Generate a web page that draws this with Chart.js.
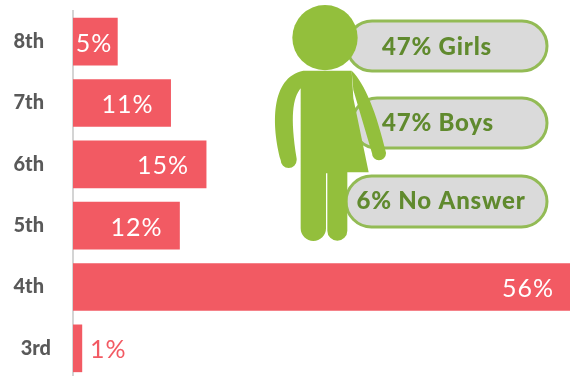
<!DOCTYPE html>
<html><head><meta charset="utf-8">
<style>html,body{margin:0;padding:0;background:#fff;overflow:hidden;width:570px;height:376px}canvas{display:block}</style>
<script src="https://cdn.jsdelivr.net/npm/chart.js@4"></script>
</head><body>
<canvas id="c" width="570" height="380"></canvas>
<script>
const grades = ['8th','7th','6th','5th','4th','3rd'];
const percents = [5,11,15,12,56,1];
const genderLabels = ['47% Girls','47% Boys','6% No Answer'];

const RED='#f25a63', GREEN='#93bf3c', TEXTGREEN='#608a2e';
const labelInset=[5,17,17,17,16];
const pills=[[347,21,200,50],[352,98,195,50],[346,176,201,51]];
const pillText=[[437,47],[438,123],[441,201]];

const overlay={id:'overlay',afterDatasetsDraw(ch){
  const c=ch.ctx, xs=ch.scales.x, ys=ch.scales.y;
  c.save();
  // value labels
  c.font='400 25px Lato'; c.textBaseline='middle';
  if('letterSpacing' in c) c.letterSpacing='1px';
  percents.forEach((v,i)=>{
    const y=ys.getPixelForValue(i)+2;
    if(v>=5){c.fillStyle='#fff';c.textAlign='right';c.fillText(v+'%',xs.getPixelForValue(v)-labelInset[i],y);}
    else{c.fillStyle=RED;c.textAlign='left';c.fillText(v+'%',xs.getPixelForValue(v)+8,y);}
  });
  // pills
  pills.forEach(([x,y,w,h])=>{
    c.beginPath();c.roundRect(x,y,w,h,h/2);c.fillStyle='#dadada';c.fill();
    c.lineWidth=3;c.strokeStyle='#93bb55';c.stroke();
  });
  // figure (drawn in 3x zoomed units)
  c.save();c.translate(270,0);c.scale(1/3,1/3);c.fillStyle=GREEN;
  c.beginPath();c.arc(165,113,98,0,Math.PI*2);c.fill();
  c.beginPath();
  c.moveTo(100,212);c.lineTo(245,212);c.lineTo(250,295);c.lineTo(296,517);c.lineTo(232,517);
  c.lineTo(232,692);c.arc(202,692,30,0,Math.PI);c.lineTo(172,520);c.lineTo(168,520);
  c.lineTo(168,685);c.arc(130,685,38,0,Math.PI);c.lineTo(92,265);
  c.bezierCurveTo(68,295,60,350,80,476);c.arc(56,480,24,0,Math.PI);
  c.bezierCurveTo(5,380,0,232,100,212);c.fill();
  c.beginPath();
  c.moveTo(245,212);c.bezierCurveTo(285,250,320,340,348,458);c.arc(327,460,21,0,Math.PI);
  c.lineTo(250,270);c.closePath();c.fill();
  c.restore();
  // pill text
  c.font='900 24px Lato';c.fillStyle=TEXTGREEN;c.textAlign='center';
  if('letterSpacing' in c) c.letterSpacing='0.8px';
  genderLabels.forEach((t,i)=>c.fillText(t,pillText[i][0],pillText[i][1]));
  c.restore();
}};

new Chart(document.getElementById('c'),{
  type:'bar',
  data:{labels:grades,datasets:[{data:percents,backgroundColor:RED,borderWidth:0,barThickness:47}]},
  options:{
    indexAxis:'y',responsive:false,animation:false,
    layout:{padding:{top:11,bottom:1,left:0,right:0}},
    plugins:{legend:{display:false},tooltip:{enabled:false}},
    scales:{
      x:{display:false,min:0,max:56},
      y:{
        afterFit(s){
          s.width=73;s.paddingTop=0;s.paddingBottom=0;
          const base=s._computeLabelItems;
          s._computeLabelItems=function(a){
            const items=base.call(this,a);
            items[grades.length-1].options.translation[0]+=7;
            return items;
          };
        },
        border:{display:true,color:'#d4d4d4',width:2},
        grid:{display:false},
        ticks:{color:'#595959',font:{family:'Lato',weight:'900',size:20},padding:21,
          crossAlign:'near',autoSkip:false}
      }
    }
  },
  plugins:[overlay]
});
</script>
</body></html>
